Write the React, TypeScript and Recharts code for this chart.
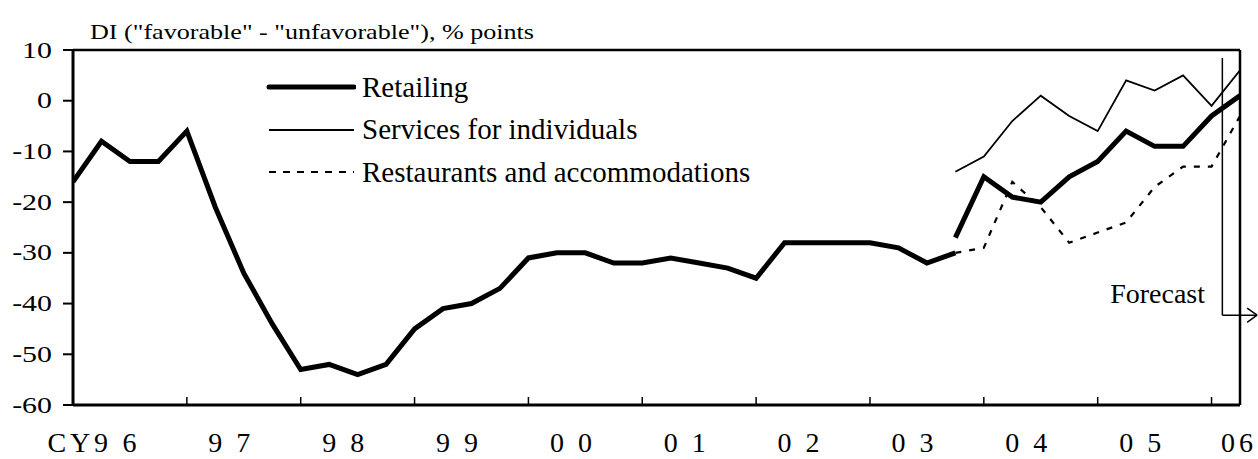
import React from "react";
import { LineChart, Line, XAxis, YAxis, ReferenceLine, Legend } from "recharts";

const W = 1258;
const H = 459;
const serif = '"Liberation Serif", "Times New Roman", serif';

// quarterly survey points, CY1996 Q1 .. CY2006 Q2 (last one is the forecast)
const quarters = [
  "96Q1", "96Q2", "96Q3", "96Q4", "97Q1", "97Q2", "97Q3", "97Q4",
  "98Q1", "98Q2", "98Q3", "98Q4", "99Q1", "99Q2", "99Q3", "99Q4",
  "00Q1", "00Q2", "00Q3", "00Q4", "01Q1", "01Q2", "01Q3", "01Q4",
  "02Q1", "02Q2", "02Q3", "02Q4", "03Q1", "03Q2", "03Q3", "03Q4",
  "04Q1", "04Q2", "04Q3", "04Q4", "05Q1", "05Q2", "05Q3", "05Q4",
  "06Q1", "06Q2",
];

const yearLabels = ["CY9 6", "9 7", "9 8", "9 9", "0 0", "0 1", "0 2", "0 3", "0 4", "0 5", "0 6"];
const yearTicks = [0, 4, 8, 12, 16, 20, 24, 28, 32, 36, 40];
const yTicks = [10, 0, -10, -20, -30, -40, -50, -60];

// old survey basis, from 96Q1
const retailingOld = [
  -16, -8, -12, -12, -6, -21, -34, -44, -53, -52, -54, -52, -45, -41, -40, -37,
  -31, -30, -30, -32, -32, -31, -32, -33, -35, -28, -28, -28, -28, -29, -32, -30,
];

// new survey basis, from 03Q4
const newBasisStart = 31;
const retailingNew = [-27, -15, -19, -20, -15, -12, -6, -9, -9, -3, 1];
const services = [-14, -11, -4, 1, -3, -6, 4, 2, 5, -1, 6];
const restaurants = [-30, -29, -16, -21, -28, -26, -24, -17, -13, -13, -3];

const fromNew = (arr: number[], i: number) =>
  i >= newBasisStart ? arr[i - newBasisStart] ?? null : null;

const rows = quarters.map((q, i) => ({
  i,
  q,
  retailOld: retailingOld[i] ?? null,
  retailNew: fromNew(retailingNew, i),
  services: fromNew(services, i),
  restaurants: fromNew(restaurants, i),
}));

// forecast marker, in axis units
const forecastX = 40.38;
const forecastTop = 8.4;
const forecastY = -42.3;
const arrowEnd = 41.6;

function YTick(props: any) {
  const { x, y, payload } = props;
  const s = String(payload.value);
  const em = [...s].reduce((a, c) => a + (c === "-" ? 0.333 : 0.5), 0);
  return (
    <text
      x={x}
      y={y}
      textAnchor="end"
      dominantBaseline="central"
      style={{ fontFamily: serif, fontSize: 23 }}
      fill="#000"
      textLength={em * 23 * 1.3}
      lengthAdjust="spacingAndGlyphs"
    >
      {s}
    </text>
  );
}

function XTick(props: any) {
  const { x, y, payload } = props;
  const k = Math.round(payload.value / 4);
  const label = yearLabels[k];
  const last = k === yearLabels.length - 1;
  const right = last ? W - 5 : x + 63.5;
  const len = k === 0 ? 89 : last ? 32 : 42;
  return (
    <text
      x={right}
      y={y}
      textAnchor="end"
      style={{ fontFamily: serif, fontSize: 28 }}
      fill="#000"
      textLength={len}
      lengthAdjust="spacing"
    >
      {label}
    </text>
  );
}

const legendOrder = ["retailOld", "services", "restaurants"];
const legendStyle: Record<string, any> = {
  retailOld: { strokeWidth: 5, strokeLinecap: "round" },
  services: { strokeWidth: 1.8 },
  restaurants: { strokeWidth: 2.2, strokeDasharray: "7 7" },
};

function LegendBox(props: any) {
  const items = (props.payload || [])
    .filter((p: any) => legendOrder.includes(p.dataKey))
    .sort((a: any, b: any) => legendOrder.indexOf(a.dataKey) - legendOrder.indexOf(b.dataKey));
  return (
    <div>
      {items.map((p: any) => (
        <div key={p.dataKey} style={{ display: "flex", alignItems: "center", height: 42.5 }}>
          <svg width={90} height={12} style={{ display: "block" }}>
            <line x1={3} x2={88} y1={6} y2={6} stroke="#000" {...legendStyle[p.dataKey]} />
          </svg>
          <span style={{ marginLeft: 6, fontFamily: serif, fontSize: 29, lineHeight: 1, color: "#000", whiteSpace: "nowrap" }}>
            {p.value}
          </span>
        </div>
      ))}
    </div>
  );
}

export default function App() {
  return (
    <div style={{ position: "relative", width: W, height: H, background: "#fff" }}>
      <style>{`body{margin:0;background:#fff}`}</style>
      <LineChart width={W} height={H} data={rows} margin={{ top: 50, right: 18, bottom: 0, left: 0 }}>
        <XAxis
          dataKey="i"
          type="number"
          domain={[0, 41]}
          allowDataOverflow
          ticks={yearTicks}
          interval={0}
          height={54}
          tickSize={-8}
          tickMargin={55}
          axisLine={{ stroke: "#000", strokeWidth: 3 }}
          tickLine={{ stroke: "#000", strokeWidth: 1.5 }}
          tick={<XTick />}
        />
        <YAxis
          type="number"
          domain={[-60, 10]}
          allowDataOverflow
          ticks={yTicks}
          interval={0}
          width={73}
          tickSize={10}
          tickMargin={11}
          axisLine={{ stroke: "#000", strokeWidth: 3 }}
          tickLine={{ stroke: "#000", strokeWidth: 2 }}
          tick={<YTick />}
        />
        <ReferenceLine y={10} stroke="#000" strokeWidth={2.5} />
        <ReferenceLine x={41} stroke="#000" strokeWidth={2.5} />

        <Line dataKey="retailOld" name="Retailing" stroke="#000" strokeWidth={5} dot={false} isAnimationActive={false} />
        <Line dataKey="retailNew" name="Retailing (new)" legendType="none" stroke="#000" strokeWidth={5} dot={false} isAnimationActive={false} />
        <Line dataKey="services" name="Services for individuals" stroke="#000" strokeWidth={1.8} dot={false} isAnimationActive={false} />
        <Line
          dataKey="restaurants"
          name="Restaurants and accommodations"
          stroke="#000"
          strokeWidth={2.2}
          strokeDasharray="6 8"
          dot={false}
          isAnimationActive={false}
        />

        <ReferenceLine
          segment={[{ x: forecastX, y: forecastTop }, { x: forecastX, y: forecastY }]}
          stroke="#000"
          strokeWidth={1.5}
          ifOverflow="visible"
        />
        <ReferenceLine
          segment={[{ x: forecastX, y: forecastY }, { x: arrowEnd, y: forecastY }]}
          stroke="#000"
          strokeWidth={1.5}
          ifOverflow="visible"
        />
        <ReferenceLine
          segment={[{ x: 41.25, y: -40.9 }, { x: arrowEnd, y: forecastY }]}
          stroke="#000"
          strokeWidth={1.5}
          ifOverflow="visible"
        />
        <ReferenceLine
          segment={[{ x: 41.25, y: -43.7 }, { x: arrowEnd, y: forecastY }]}
          stroke="#000"
          strokeWidth={1.5}
          ifOverflow="visible"
        />

        <Legend
          layout="vertical"
          align="center"
          verticalAlign="middle"
          wrapperStyle={{ left: 266, top: 66, width: "auto", height: "auto" }}
          content={<LegendBox />}
        />
      </LineChart>
      <svg width={W} height={H} style={{ position: "absolute", left: 0, top: 0, pointerEvents: "none" }}>
        <text
          x={90}
          y={39}
          style={{ fontFamily: serif, fontSize: 21 }}
          fill="#000"
          textLength={444}
          lengthAdjust="spacingAndGlyphs"
        >
          DI ("favorable" - "unfavorable"), % points
        </text>
        <text x={1205} y={303} textAnchor="end" style={{ fontFamily: serif, fontSize: 28 }} fill="#000">
          Forecast
        </text>
      </svg>
    </div>
  );
}
